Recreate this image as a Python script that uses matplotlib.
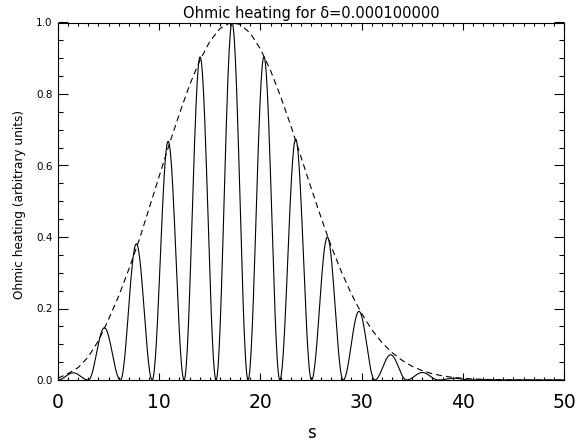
import numpy as np
import matplotlib
matplotlib.use("Agg")
import matplotlib.pyplot as plt
from matplotlib.ticker import MultipleLocator

plt.rcParams['font.family'] = ['DejaVu Sans']

# envelope (dashed), read at integer s
env_s = list(range(0, 51))
env_y = [0.005, 0.018, 0.035, 0.065, 0.11, 0.17, 0.235, 0.31, 0.39, 0.48,
         0.57, 0.66, 0.745, 0.825, 0.893, 0.947, 0.983, 0.999, 0.995, 0.970,
         0.926, 0.866, 0.793, 0.712, 0.625, 0.538, 0.454, 0.374, 0.303, 0.240,
         0.186, 0.141, 0.105, 0.077, 0.055, 0.038, 0.026, 0.0175, 0.0115, 0.0074,
         0.0047, 0.0029, 0.0018, 0.0011, 0.0006, 0.0004, 0.0002, 0.0001, 0.0001, 0.0, 0.0]

# oscillating heating: zeros (lobe edges) and lobe peak heights
lobe_edges = [0.0, 3.0, 6.17, 9.31, 12.46, 15.62, 18.78, 21.92, 25.05, 28.18,
              31.3, 34.44, 37.58, 40.72, 43.86, 47.0, 50.0]
lobe_peaks = [0.02, 0.146, 0.381, 0.668, 0.904, 1.0, 0.904, 0.674, 0.40, 0.192,
              0.0705, 0.021, 0.005, 0.001, 0.0002, 0.0]

fig = plt.figure(figsize=(5.81, 4.45), dpi=100)
ax = fig.add_axes([58/581, 65/445, 506/581, 357.5/445])

xs, ys = [], []
for a, b, h in zip(lobe_edges[:-1], lobe_edges[1:], lobe_peaks):
    t = np.linspace(0, 1, 60)
    xs.append(a + (b - a) * t)
    ys.append(h * np.sin(np.pi * t) ** 2)
ax.plot(np.concatenate(xs), np.concatenate(ys), color='k', lw=0.8)
ax.plot(env_s, env_y, color='k', lw=0.8, dashes=(5.4, 3.6))

ax.set_xlim(0, 50)
ax.set_ylim(0, 1.0)
ax.xaxis.set_major_locator(MultipleLocator(10))
ax.xaxis.set_minor_locator(MultipleLocator(1))
ax.yaxis.set_major_locator(MultipleLocator(0.2))
ax.yaxis.set_minor_locator(MultipleLocator(0.05))
ax.yaxis.set_major_formatter(matplotlib.ticker.FormatStrFormatter('%.1f'))

ax.tick_params(axis='both', which='both', direction='in', top=True, right=True, width=0.8)
ax.tick_params(axis='x', which='major', length=5, labelsize=13.5, pad=9)
ax.tick_params(axis='x', which='minor', length=2.5)
ax.tick_params(axis='y', which='major', length=7.2, labelsize=7.5, pad=4)
ax.tick_params(axis='y', which='minor', length=3.6)
for sp in ax.spines.values():
    sp.set_linewidth(0.8)

ax.set_title('Ohmic heating for δ=0.000100000', fontsize=10.5, pad=3)
ax.set_xlabel('s', fontsize=12)
ax.xaxis.set_label_coords(0.5, -0.148)
ax.xaxis.label.set_va('center')
ax.set_ylabel('Ohmic heating (arbitrary units)', fontsize=8.7)
ax.yaxis.set_label_coords(-0.077, 0.49)
ax.yaxis.label.set_va('center')

fig.savefig('out.png', dpi=100)
